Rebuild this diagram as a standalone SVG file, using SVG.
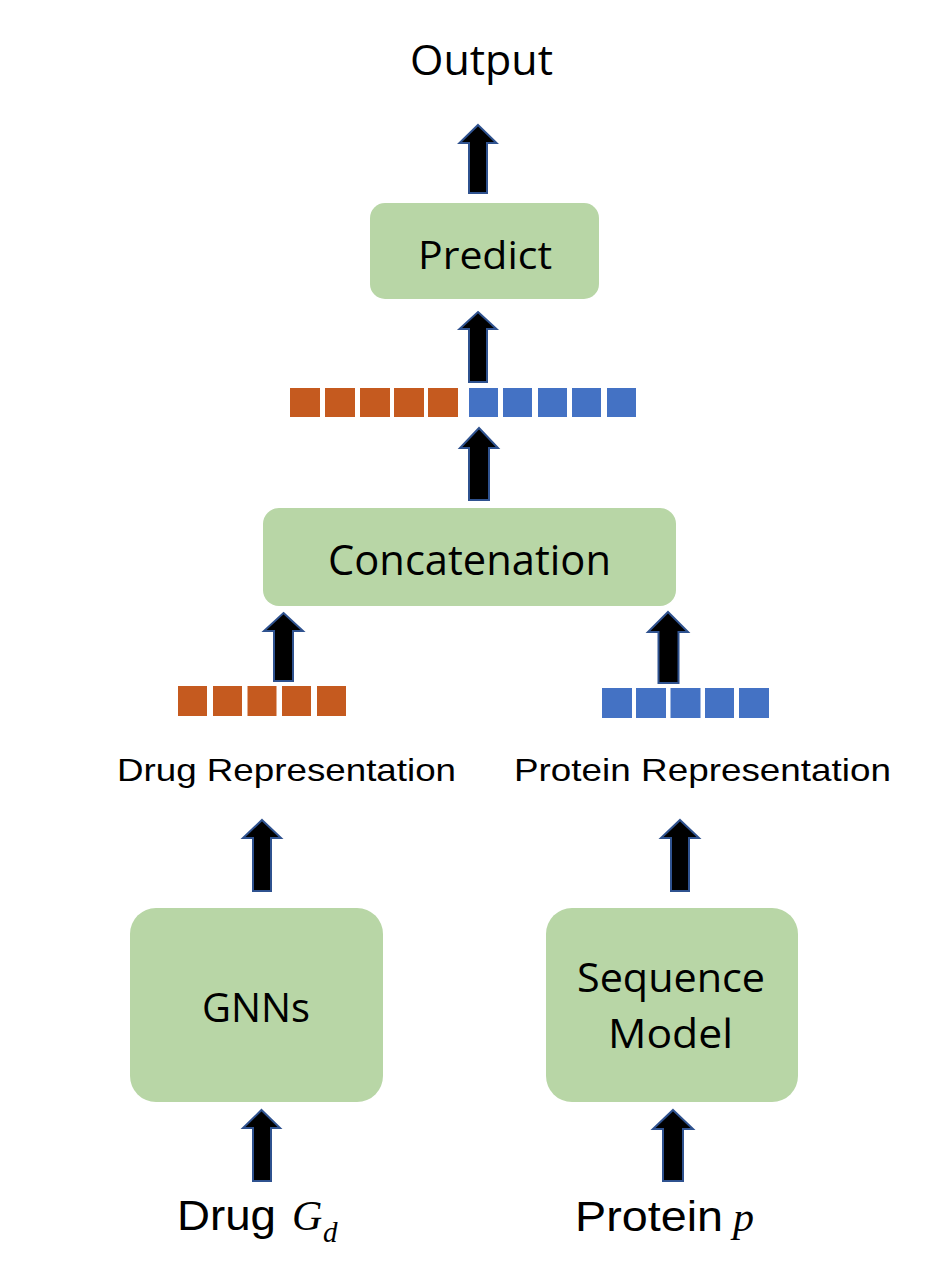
<svg xmlns="http://www.w3.org/2000/svg" width="946" height="1288" viewBox="0 0 946 1288">
<style>
.box{fill:#B8D6A6;}
.arr{fill:#000;stroke:#2F528F;stroke-width:2;stroke-linejoin:miter;}
.or{fill:#C55A1F;}
.bl{fill:#4472C4;}
.cal{font-family:"Open Sans","Noto Sans",sans-serif;fill:#000;}
.ar{font-family:"Liberation Sans",Arial,sans-serif;fill:#000;}
.math{font-family:"Liberation Serif","DejaVu Serif",serif;font-style:italic;fill:#000;}
</style>
<rect width="946" height="1288" fill="#fff"/>
<g id="output">
<text class="cal" x="410" y="75" font-size="42" textLength="143" lengthAdjust="spacingAndGlyphs">Output</text>
</g>
<g id="predict">
<rect class="box" x="370" y="203" width="229" height="96" rx="15"/>
<text class="cal" x="418" y="269" font-size="38" textLength="134" lengthAdjust="spacingAndGlyphs">Predict</text>
</g>
<g id="concat-vector">
<rect class="or" x="290" y="388" width="30" height="29"/>
<rect class="or" x="325" y="388" width="30" height="29"/>
<rect class="or" x="360" y="388" width="30" height="29"/>
<rect class="or" x="394" y="388" width="30" height="29"/>
<rect class="or" x="428" y="388" width="30" height="29"/>
<rect class="bl" x="469" y="388" width="29" height="29"/>
<rect class="bl" x="503" y="388" width="29" height="29"/>
<rect class="bl" x="538" y="388" width="29" height="29"/>
<rect class="bl" x="572" y="388" width="29" height="29"/>
<rect class="bl" x="607" y="388" width="29" height="29"/>
</g>
<g id="concatenation">
<rect class="box" x="263" y="508" width="413" height="98" rx="16"/>
<text class="cal" x="328" y="575" font-size="42" textLength="283" lengthAdjust="spacingAndGlyphs">Concatenation</text>
</g>
<g id="drug-representation">
<rect class="or" x="178" y="686" width="29" height="30"/>
<rect class="or" x="213" y="686" width="29" height="30"/>
<rect class="or" x="247.5" y="686" width="29" height="30"/>
<rect class="or" x="282" y="686" width="29" height="30"/>
<rect class="or" x="317" y="686" width="29" height="30"/>
<text class="ar" x="117" y="781" font-size="32" textLength="339" lengthAdjust="spacingAndGlyphs">Drug Representation</text>
</g>
<g id="protein-representation">
<rect class="bl" x="602" y="688" width="30" height="30"/>
<rect class="bl" x="636" y="688" width="30" height="30"/>
<rect class="bl" x="670.5" y="688" width="30" height="30"/>
<rect class="bl" x="705" y="688" width="29" height="30"/>
<rect class="bl" x="739" y="688" width="30" height="30"/>
<text class="ar" x="514" y="781" font-size="32" textLength="377" lengthAdjust="spacingAndGlyphs">Protein Representation</text>
</g>
<g id="gnns">
<rect class="box" x="130" y="908" width="253" height="194" rx="26"/>
<text class="cal" x="202" y="1022" font-size="40" textLength="108" lengthAdjust="spacingAndGlyphs">GNNs</text>
</g>
<g id="sequence-model">
<rect class="box" x="546" y="908" width="252" height="194" rx="26"/>
<text class="cal" x="577" y="992" font-size="40" textLength="188" lengthAdjust="spacingAndGlyphs">Sequence</text>
<text class="cal" x="608" y="1048" font-size="40" textLength="125" lengthAdjust="spacingAndGlyphs">Model</text>
</g>
<g id="drug-input">
<text class="ar" x="177" y="1230" font-size="42" textLength="99" lengthAdjust="spacingAndGlyphs">Drug</text>
<text class="math" x="292" y="1230" font-size="42">G</text>
<text class="math" x="323" y="1242" font-size="29">d</text>
</g>
<g id="protein-input">
<text class="ar" x="575" y="1231" font-size="42" textLength="148" lengthAdjust="spacingAndGlyphs">Protein</text>
<text class="math" x="733" y="1231" font-size="42">p</text>
</g>
<g id="connectors">
<path class="arr" d="M478,125 L496.5,143 L487,143 L487,193 L469,193 L469,143 L459.5,143 Z"/>
<path class="arr" d="M478,312 L496.5,329 L487,329 L487,382 L469,382 L469,329 L459.5,329 Z"/>
<path class="arr" d="M479,428 L498,448 L489,448 L489,500 L469,500 L469,448 L460,448 Z"/>
<path class="arr" d="M283.5,613 L303,631 L293,631 L293,681 L274,681 L274,631 L264,631 Z"/>
<path class="arr" d="M668,612 L688,632 L678.5,632 L678.5,683 L658.5,683 L658.5,632 L648,632 Z"/>
<path class="arr" d="M262,820 L281,838 L271,838 L271,891 L253,891 L253,838 L243,838 Z"/>
<path class="arr" d="M680,820 L699,838 L689,838 L689,891 L671,891 L671,838 L661,838 Z"/>
<path class="arr" d="M261.5,1110 L280,1128 L271,1128 L271,1181 L253,1181 L253,1128 L243,1128 Z"/>
<path class="arr" d="M673,1110 L693,1129 L683,1129 L683,1181 L663,1181 L663,1129 L653,1129 Z"/>
</g>
</svg>
